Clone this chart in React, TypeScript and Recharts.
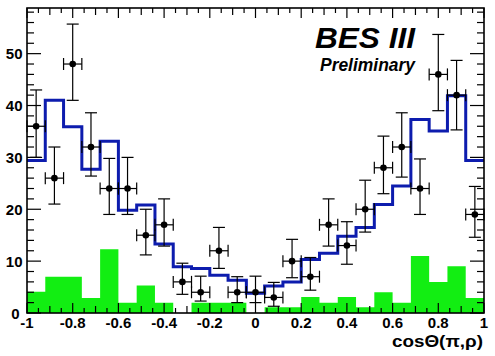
import * as React from "react";
import { ComposedChart, XAxis, YAxis, Line, Area, Scatter, ErrorBar } from "recharts";

// bin centres of cosTheta(pi,rho), 25 bins of width 0.08
const binCenters = [
  -0.96, -0.88, -0.8, -0.72, -0.64, -0.56, -0.48, -0.4, -0.32, -0.24, -0.16, -0.08, 0,
  0.08, 0.16, 0.24, 0.32, 0.4, 0.48, 0.56, 0.64, 0.72, 0.8, 0.88, 0.96,
];
const halfBin = 0.04;

// data points (events per bin) and their asymmetric errors [down, up]
const dataCounts = [36, 26, 48, 32, 24, 24, 15, 17, 6, 4, 12, 4, 4, 3, 10, 7, 17, 13, 20, 28, 32, 24, 46, 42, 19];
const dataErrors = [
  [6, 7], [5, 6], [7, 7.7], [5.6, 6.6], [5, 5.8], [5, 6], [3.8, 5], [4.1, 5], [2.4, 3.6], [1.7, 3.1],
  [3.4, 4.5], [2, 3], [2, 3.1], [1.7, 2.9], [3.2, 4.2], [2.6, 3.7], [4.1, 5], [3.6, 4.6], [4.4, 5.6],
  [5, 6.1], [5.8, 6.6], [5, 5.7], [7, 7.7], [6.7, 6.7], [4.4, 5.4],
];

// MC expectation (blue histogram)
const mcCounts = [
  29.4, 41, 35.9, 27.7, 33.1, 19.8, 20.8, 13.3, 8.9, 8.6, 7.3, 6.3, 3.8,
  5.2, 6.0, 10.3, 11.5, 14.8, 16.5, 20.9, 24.5, 37.3, 35.1, 41.9, 29.4,
];

// background (green histogram)
const bgCounts = [4.1, 7, 7, 2.9, 12.3, 2, 5.3, 2, 0, 2, 2, 2, 0, 1.1, 1.1, 3.1, 2, 3.1, 1.1, 4, 2, 11, 6, 9, 2.9];

const xTicks = Array.from({ length: 41 }, (_, i) => Math.round((-1 + i * 0.05) * 100) / 100);
const xLabels = [-1, -0.8, -0.6, -0.4, -0.2, 0, 0.2, 0.4, 0.6, 0.8, 1];
const yTicks = Array.from({ length: 30 }, (_, i) => i * 2);

const yMax = 58.8;
const FONT = "'Liberation Sans', Arial, sans-serif";

// histogram rows at the lower bin edges, last edge repeats the last bin
const histRows = binCenters.map((c, i) => ({ x: c - halfBin, mc: mcCounts[i], bg: bgCounts[i] }));
histRows.push({ x: 1, mc: mcCounts[mcCounts.length - 1], bg: bgCounts[bgCounts.length - 1] });

const pointRows = binCenters.map((c, i) => ({ x: c, y: dataCounts[i], ey: dataErrors[i], ex: halfBin }));

const isMajorX = (v: number) => xLabels.some((l) => Math.abs(l - v) < 1e-6);
const isMidX = (v: number) => Math.abs(Math.round(v * 10) - v * 10) < 1e-6;

const BottomTick = (props: any) => {
  const { x, payload, plotBottom } = props;
  const y = plotBottom;
  const v = payload.value;
  const len = isMajorX(v) ? 10 : isMidX(v) ? 7 : 5;
  return (
    <g>
      <line x1={x} x2={x} y1={y} y2={y - len} stroke="#000" strokeWidth={1.2} />
      {isMajorX(v) && (
        <text x={x} y={y + 15} textAnchor="middle" fontFamily={FONT} fontWeight="bold" fontSize={15} fill="#000">
          {String(v)}
        </text>
      )}
    </g>
  );
};

const TopTick = (props: any) => {
  const { x, payload, plotTop } = props;
  const v = payload.value;
  const len = isMajorX(v) ? 10 : isMidX(v) ? 7 : 5;
  return <line x1={x} x2={x} y1={plotTop} y2={plotTop + len} stroke="#000" strokeWidth={1.2} />;
};

const LeftTick = (props: any) => {
  const { y, payload, plotLeft } = props;
  const x = plotLeft;
  const v = payload.value;
  const major = v % 10 === 0;
  return (
    <g>
      <line x1={x} x2={x + (major ? 14 : 7)} y1={y} y2={y} stroke="#000" strokeWidth={1.2} />
      {major && (
        <text x={v === 0 ? x - 7.5 : x - 4.5} y={v === 0 ? y + 1 : y} dy="0.36em" textAnchor="end" fontFamily={FONT} fontWeight="bold" fontSize={15} fill="#000">
          {String(v)}
        </text>
      )}
    </g>
  );
};

const RightTick = (props: any) => {
  const { y, payload, plotRight } = props;
  const major = payload.value % 10 === 0;
  return <line x1={plotRight} x2={plotRight - (major ? 14 : 7)} y1={y} y2={y} stroke="#000" strokeWidth={1.2} />;
};

const Dot = (p: any) => <circle cx={p.cx} cy={p.cy} r={3.3} fill="#000" />;

const W = 495;
const H = 356;
const M = { top: 7, right: 10, bottom: 42, left: 26 };
const plotTop = M.top + 1;
const plotBottom = H - M.bottom - 1;
const plotLeft = M.left + 1;
const plotRight = W - M.right - 1;

export default function App() {
  return (
    <div style={{ position: "absolute", left: 0, top: 0, width: W, height: H, background: "#fff" }}>
      <ComposedChart width={W} height={H} margin={M}>
        <XAxis
          xAxisId="b"
          dataKey="x"
          type="number"
          domain={[-1, 1]}
          ticks={xTicks}
          interval={0}
          height={1}
          tickSize={0}
          tickMargin={0}
          tickLine={false}
          tick={<BottomTick plotBottom={plotBottom} />}
          axisLine={false}
          allowDataOverflow
        />
        <XAxis
          xAxisId="t"
          dataKey="x"
          orientation="top"
          type="number"
          domain={[-1, 1]}
          ticks={xTicks}
          interval={0}
          height={1}
          tickSize={0}
          tickMargin={0}
          tickLine={false}
          tick={<TopTick plotTop={plotTop} />}
          axisLine={false}
          allowDataOverflow
        />
        <YAxis
          yAxisId="l"
          type="number"
          domain={[0, yMax]}
          ticks={yTicks}
          interval={0}
          width={1}
          tickSize={0}
          tickMargin={0}
          tickLine={false}
          tick={<LeftTick plotLeft={plotLeft} />}
          axisLine={false}
          allowDataOverflow
        />
        <YAxis
          yAxisId="r"
          orientation="right"
          type="number"
          domain={[0, yMax]}
          ticks={yTicks}
          interval={0}
          width={1}
          tickSize={0}
          tickMargin={0}
          tickLine={false}
          tick={<RightTick plotRight={plotRight} />}
          axisLine={false}
          allowDataOverflow
        />
        <Area
          xAxisId="b"
          yAxisId="l"
          data={histRows}
          dataKey="bg"
          type="stepAfter"
          stroke="none"
          fill="#12ee12"
          fillOpacity={1}
          isAnimationActive={false}
        />
        <Line
          xAxisId="t"
          yAxisId="r"
          data={histRows}
          dataKey="mc"
          type="stepAfter"
          stroke="#0d1cae"
          strokeWidth={3}
          dot={false}
          activeDot={false}
          isAnimationActive={false}
        />
        <Scatter
          xAxisId="b"
          yAxisId="l"
          data={pointRows}
          dataKey="y"
          shape={<Dot />}
          isAnimationActive={false}
        >
          <ErrorBar dataKey="ey" direction="y" width={6} stroke="#000" strokeWidth={1.2} />
          <ErrorBar dataKey="ex" direction="x" width={6} stroke="#000" strokeWidth={1.2} />
        </Scatter>
      </ComposedChart>
      <svg width={W} height={H} style={{ position: "absolute", left: 0, top: 0, pointerEvents: "none" }}>
        <rect x={plotLeft} y={plotTop} width={plotRight - plotLeft} height={plotBottom - plotTop} fill="none" stroke="#000" strokeWidth={1.6} />
        <text x={315} y={48} fontFamily={FONT} fontWeight="bold" fontStyle="italic" fontSize={30} textLength={100} lengthAdjust="spacingAndGlyphs" fill="#000">
          BES III
        </text>
        <text x={320} y={71} fontFamily={FONT} fontWeight="bold" fontStyle="italic" fontSize={19} textLength={95} lengthAdjust="spacingAndGlyphs" fill="#000">
          Preliminary
        </text>
        <text x={392} y={347} fontFamily={FONT} fontWeight="bold" fontSize={17} textLength={91} lengthAdjust="spacingAndGlyphs" fill="#000">
          cosΘ(π,ρ)
        </text>
      </svg>
    </div>
  );
}
